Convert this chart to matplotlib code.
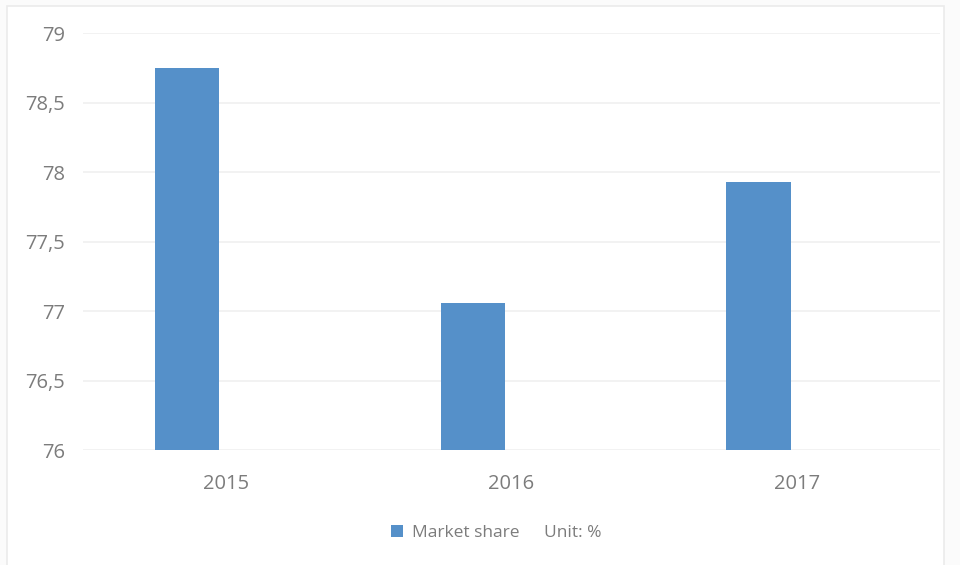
import matplotlib.pyplot as plt
import numpy as np
from matplotlib.patches import Patch, Rectangle

years = ["2015", "2016", "2017"]
market_share = [78.75, 77.06, 77.93]
y_ticks = [76, 76.5, 77, 77.5, 78, 78.5, 79]
y_tick_labels = ["76", "76,5", "77", "77,5", "78", "78,5", "79"]

BAR_COLOR = "#5590c9"
TEXT_COLOR = "#7c7c7c"
GRID_COLOR = "#f0f0f0"

plt.rcParams["font.family"] = ["Open Sans", "DejaVu Sans"]


def main():
    fig = plt.figure(figsize=(9.6, 5.65), dpi=100, facecolor="#fbfbfb")
    # white chart area with a faint border
    fig.patches.append(Rectangle((0.007, -0.01), 0.976, 1.0, transform=fig.transFigure,
                                 facecolor="white", edgecolor="#ebebeb", lw=1.2, zorder=-1))

    ax = fig.add_axes([0.0865, 0.2035, 0.8925, 0.738])
    ax.set_facecolor("white")

    x = np.arange(len(years))
    ax.bar(x - 0.135, market_share, width=0.225, color=BAR_COLOR, zorder=3)

    ax.set_xlim(-0.5, 2.5)
    ax.set_ylim(76, 79)
    ax.set_yticks(y_ticks)
    ax.set_yticklabels(y_tick_labels)
    ax.set_xticks(x)
    ax.set_xticklabels(years)
    ax.tick_params(axis="both", length=0, labelsize=14.5, labelcolor=TEXT_COLOR)
    ax.tick_params(axis="y", pad=13)
    ax.tick_params(axis="x", pad=17)
    ax.grid(axis="y", color=GRID_COLOR, lw=1.2, zorder=0)
    for spine in ax.spines.values():
        spine.set_visible(False)

    handles = [Patch(facecolor=BAR_COLOR), Patch(facecolor="none", edgecolor="none")]
    fig.legend(handles, ["Market share", "Unit: %"], loc="center", bbox_to_anchor=(0.517, 0.057),
               ncol=2, frameon=False, fontsize=12.5, labelcolor=TEXT_COLOR,
               handlelength=0.7, handleheight=0.7, handletextpad=0.5, columnspacing=0.2)

    fig.savefig("out.png", dpi=100, facecolor=fig.get_facecolor())


if __name__ == "__main__":
    main()
